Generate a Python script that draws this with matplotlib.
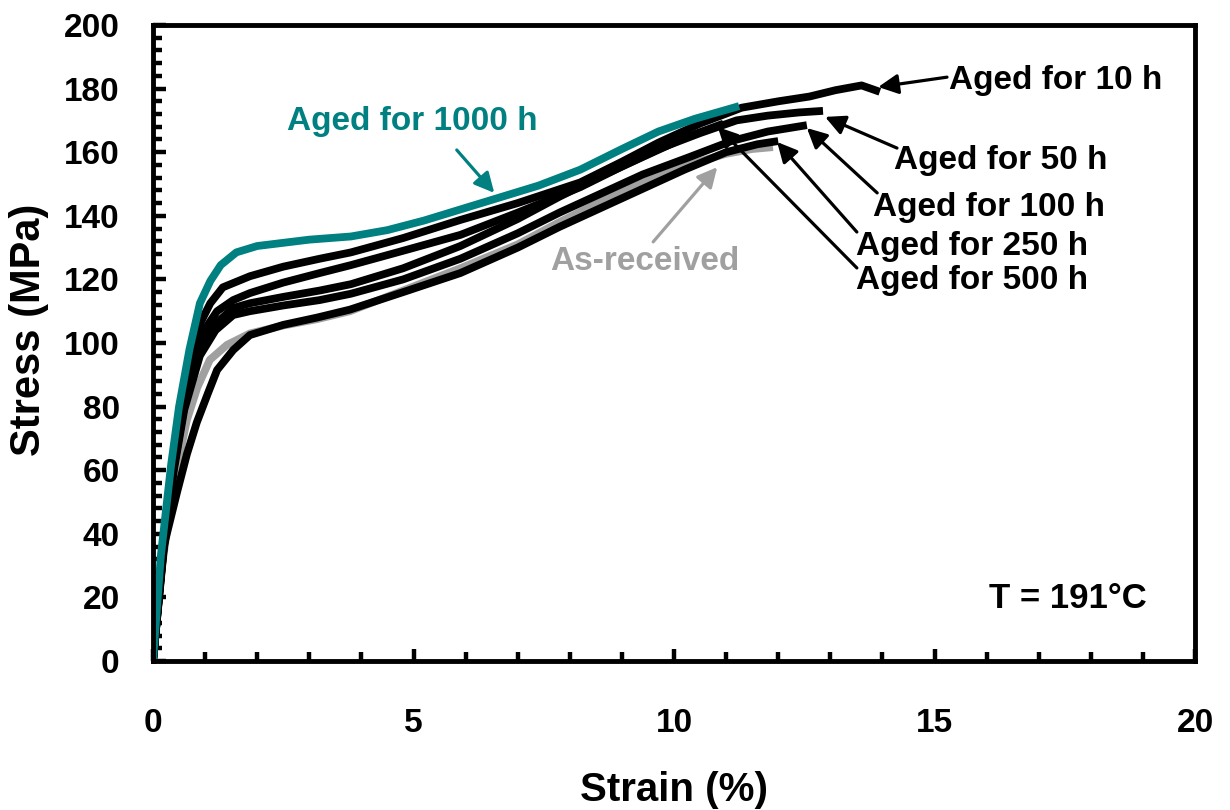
import matplotlib
matplotlib.use("Agg")
import matplotlib.pyplot as plt
from matplotlib.ticker import MultipleLocator

plt.rcParams['font.family'] = ['Liberation Sans', 'DejaVu Sans']
plt.rcParams['font.weight'] = 'bold'

# ---- data (strain %, stress MPa) ----
teal_x = [0, 0.15, 0.35, 0.5, 0.7, 0.9, 1.1, 1.3, 1.6, 2.0, 2.5, 3.0, 3.8, 4.5, 5.2, 5.9, 6.6, 7.4, 8.2, 9.0, 9.7, 10.4, 11.25]
teal_y = [0, 33, 62, 80, 98, 112.5, 119.5, 124.5, 128.5, 130.5, 131.5, 132.5, 133.5, 135.5, 138.5, 142, 145.5, 149.5, 154.5, 161, 166.5, 170.5, 174.5]

h10_x = [0, 0.2, 0.4, 0.6, 0.9, 1.1, 1.34, 1.86, 2.5, 3.2, 3.8, 4.8, 5.9, 7.0, 8.2, 9.0, 9.7, 10.5, 11.3, 12.0, 12.6, 13.1, 13.6, 13.95]
h10_y = [0, 36, 63, 84, 106, 112.5, 117.5, 121, 124, 126.5, 128.5, 133, 138.7, 144, 150.5, 157, 163, 169, 174, 176, 177.5, 179.5, 181, 179]

h50_x = [0, 0.2, 0.4, 0.6, 0.9, 1.23, 1.54, 1.86, 2.5, 3.2, 3.8, 4.8, 5.9, 7.0, 8.2, 9.0, 9.7, 10.5, 11.2, 11.8, 12.4, 12.86]
h50_y = [0, 35, 62, 81, 102, 110, 113.5, 115.7, 119, 122, 124.5, 129, 134, 141, 149, 155.5, 161, 166, 170, 171.5, 172.5, 173]

h500_x = [0, 0.2, 0.4, 0.6, 0.9, 1.2, 1.54, 1.86, 2.5, 3.2, 3.8, 4.8, 5.9, 7.0, 7.8, 8.6, 9.4, 10.2, 10.95]
h500_y = [0, 35, 61, 80, 99, 106, 111, 112.5, 114.5, 116.5, 118.5, 123.5, 130.5, 139, 146, 152.5, 158.5, 164.5, 169]

h100_x = [0, 0.2, 0.4, 0.6, 0.9, 1.2, 1.54, 1.86, 2.5, 3.2, 3.8, 4.8, 5.9, 7.0, 7.8, 8.6, 9.4, 10.3, 11.1, 11.8, 12.55]
h100_y = [0, 34, 60, 79, 96, 104, 108.8, 110, 111.8, 113.5, 115.5, 120, 126.5, 134.5, 141, 147, 153, 158.5, 163.5, 166.5, 168.5]

h250_x = [0, 0.19, 0.46, 0.65, 0.84, 1.05, 1.23, 1.54, 1.86, 2.5, 3.15, 3.78, 4.8, 5.9, 7.0, 7.8, 8.6, 9.4, 10.2, 11.0, 11.6, 12.0]
h250_y = [0, 35, 53, 65, 75, 84, 91.5, 97.8, 102.5, 105.7, 108, 110.5, 116, 122, 130, 136.5, 142.5, 148.5, 154.5, 160, 162.5, 163.5]

asrec_x = [0, 0.15, 0.3, 0.45, 0.65, 0.85, 1.09, 1.42, 1.86, 2.5, 3.15, 3.78, 4.8, 5.9, 7.0, 7.8, 8.6, 9.4, 10.36, 11.0, 11.5, 11.9]
asrec_y = [0, 27, 45, 60, 75.8, 86, 94.7, 99.4, 103, 105.5, 107.5, 110, 116.5, 123.5, 131, 138, 144.5, 150.5, 156.5, 159.5, 161, 161.6]

x_ticks = [0, 5, 10, 15, 20]
y_ticks = [0, 20, 40, 60, 80, 100, 120, 140, 160, 180, 200]

TEAL = '#008080'
GRAY = '#a0a0a0'

fig = plt.figure(figsize=(12.3, 8.1), dpi=100)
ax = fig.add_axes([153/1230, 1-661/810, 1042/1230, 636/810])

lw = 5.6
ax.plot(asrec_x, asrec_y, color=GRAY, lw=lw, solid_capstyle='butt', solid_joinstyle='round')
for xs, ys in [(h250_x, h250_y), (h100_x, h100_y), (h500_x, h500_y), (h50_x, h50_y), (h10_x, h10_y)]:
    ax.plot(xs, ys, color='black', lw=lw, solid_capstyle='butt', solid_joinstyle='round')
ax.plot(teal_x, teal_y, color=TEAL, lw=lw, solid_capstyle='butt', solid_joinstyle='round')

ax.set_xlim(0, 20)
ax.set_ylim(0, 200)
ax.set_xticks(x_ticks)
ax.set_yticks(y_ticks)
ax.xaxis.set_minor_locator(MultipleLocator(1))
ax.yaxis.set_minor_locator(MultipleLocator(4))
ax.tick_params(which='both', direction='in', width=3.2, labelsize=24)
ax.tick_params(which='major', length=9)
ax.tick_params(which='minor', length=6.5)
ax.tick_params(axis='x', which='both', pad=34)
ax.tick_params(axis='y', which='both', pad=24)
for lab in ax.get_xticklabels() + ax.get_yticklabels():
    lab.set_fontweight('bold')
for s in ax.spines.values():
    s.set_linewidth(3.5)

ax.set_xlabel('Strain (%)', fontsize=29, fontweight='bold', va='bottom')
ax.set_ylabel('Stress (MPa)', fontsize=30, fontweight='bold')
ax.xaxis.set_label_coords(0.5, -0.233)
ax.yaxis.set_label_coords(-0.10, 0.52)

fs = 24
ap = dict(arrowstyle='-|>', lw=2.3, mutation_scale=30, shrinkA=0, shrinkB=0)

ax.text(4.97, 169.5, 'Aged for 1000 h', color=TEAL, fontsize=fs, fontweight='bold', ha='center', va='center')
ax.annotate('', xy=(6.55, 147.2), xytext=(5.83, 160.7), arrowprops=dict(ap, color=TEAL))

labels = [
    ('Aged for 10 h', (17.33, 182.7), (15.24, 183.6), (13.92, 180.5)),
    ('Aged for 50 h', (16.28, 157.5), (14.28, 161.3), (12.9, 171.1)),
    ('Aged for 100 h', (16.05, 142.5), (13.9, 147.2), (12.55, 167.6)),
    ('Aged for 250 h', (15.72, 130.5), (13.51, 134.9), (11.98, 163.2)),
    ('Aged for 500 h', (15.72, 119.8), (13.51, 123.6), (10.84, 167.9)),
]
for txt, tpos, tail, tip in labels:
    ax.text(tpos[0], tpos[1], txt, color='black', fontsize=fs, fontweight='bold', ha='center', va='center')
    ax.annotate('', xy=tip, xytext=tail, arrowprops=dict(ap, color='black'))

ax.text(9.44, 125.5, 'As-received', color=GRAY, fontsize=fs, fontweight='bold', ha='center', va='center')
ax.annotate('', xy=(10.83, 155.3), xytext=(9.6, 131.8), arrowprops=dict(ap, color=GRAY))

ax.text(17.56, 19.5, 'T = 191°C', color='black', fontsize=25, fontweight='bold', ha='center', va='center')

fig.savefig('out.png', dpi=100)
